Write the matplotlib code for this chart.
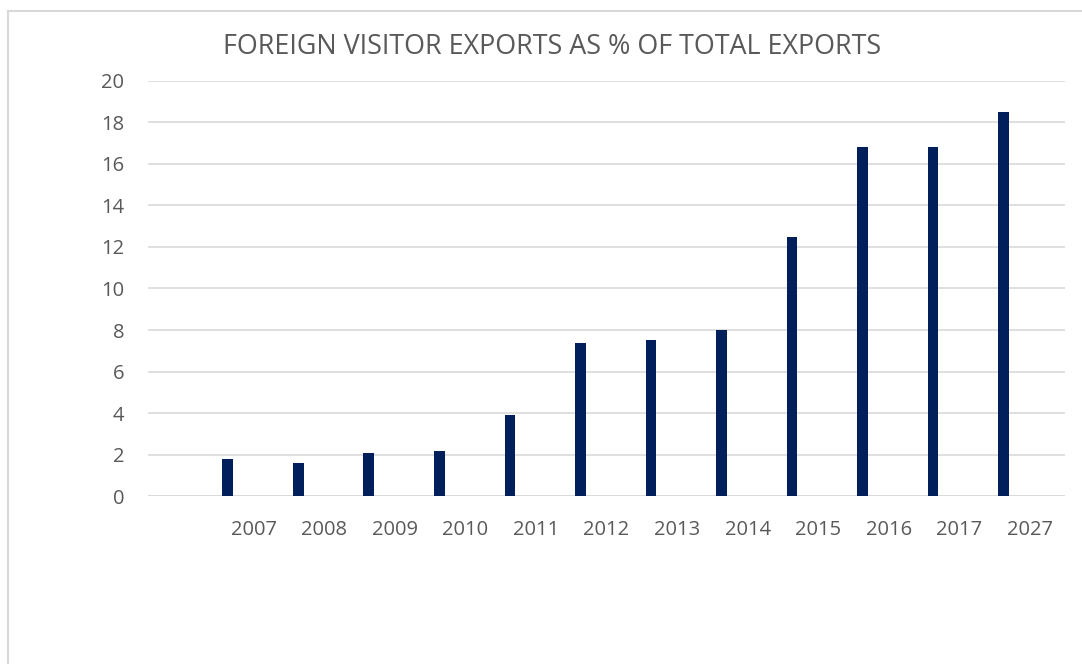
import matplotlib
matplotlib.use("Agg")
import matplotlib.pyplot as plt
from matplotlib.lines import Line2D

# Data
categories = ["", "2007", "2008", "2009", "2010", "2011", "2012",
              "2013", "2014", "2015", "2016", "2017", "2027"]
values = [None, 1.8, 1.6, 2.1, 2.2, 3.9, 7.4, 7.5, 8.0, 12.5, 16.8, 16.8, 18.5]
yticks = [0, 2, 4, 6, 8, 10, 12, 14, 16, 18, 20]
title = "FOREIGN VISITOR EXPORTS AS % OF TOTAL EXPORTS"

BAR_COLOR = "#001f5b"
TEXT_COLOR = "#595959"
GRID_COLOR = "#d9d9d9"
FONT = ["Open Sans", "DejaVu Sans"]

W, H = 1082, 664
fig = plt.figure(figsize=(W / 100, H / 100), dpi=100)
fig.patch.set_facecolor("white")

ax = fig.add_axes([148 / W, 1 - 496.3 / H, (1065 - 148) / W, (496.3 - 80.7) / H])

xs = list(range(len(categories)))
bx = [x - 0.37 for x, v in zip(xs, values) if v is not None]
bv = [v for v in values if v is not None]
ax.bar(bx, bv, width=0.15, color=BAR_COLOR, zorder=3)

ax.set_xlim(-0.5, len(categories) - 0.5)
ax.set_ylim(0, 20)
ax.set_yticks(yticks)
ax.set_yticklabels([str(t) for t in yticks], fontfamily=FONT, fontsize=14.5,
                   color=TEXT_COLOR)
ax.set_xticks(xs)
ax.set_xticklabels(categories, fontfamily=FONT, fontsize=14.5, color=TEXT_COLOR)
ax.tick_params(axis="y", length=0, pad=17)
ax.tick_params(axis="x", length=0, pad=17)

ax.grid(axis="y", color=GRID_COLOR, linewidth=1.2, zorder=0)
ax.set_axisbelow(True)
for s in ax.spines.values():
    s.set_visible(False)
ax.axhline(0, color=GRID_COLOR, linewidth=1.2, zorder=1)

fig.text(552 / W, 1 - 47.5 / H, title, ha="center", va="center",
         fontfamily=FONT, fontsize=19.4, color=TEXT_COLOR)

# Chart-area border (top and left edges visible)
fig.add_artist(Line2D([7.5 / W, 7.5 / W], [0, 1 - 10.5 / H],
                      transform=fig.transFigure, color=GRID_COLOR, linewidth=1.5))
fig.add_artist(Line2D([7.5 / W, 1], [1 - 10.5 / H, 1 - 10.5 / H],
                      transform=fig.transFigure, color=GRID_COLOR, linewidth=1.5))

fig.savefig("out.png", dpi=100, facecolor="white")
